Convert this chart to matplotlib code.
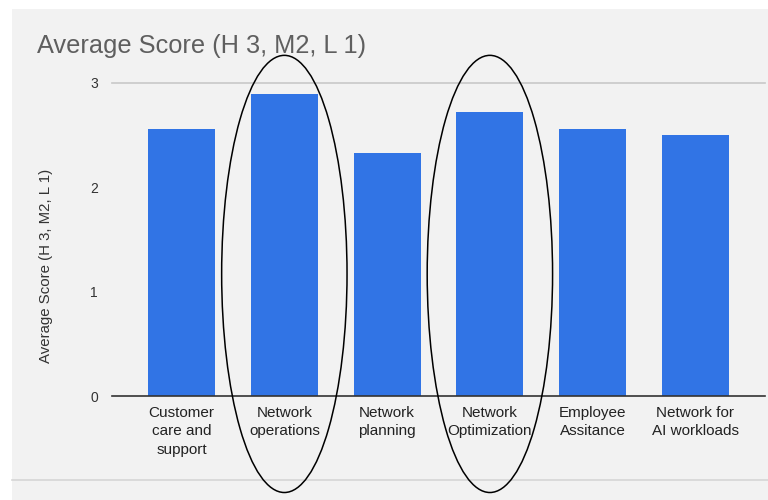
import matplotlib.pyplot as plt
from matplotlib.patches import Ellipse, Rectangle
from matplotlib.lines import Line2D

# data
categories = ['Customer\ncare and\nsupport', 'Network\noperations', 'Network\nplanning',
              'Network\nOptimization', 'Employee\nAssitance', 'Network for\nAI workloads']
scores = [2.56, 2.89, 2.33, 2.72, 2.56, 2.50]
yticks = [0, 1, 2, 3]
circled = [1, 3]  # categories circled by hand

plt.rcParams['font.family'] = ['Liberation Sans', 'DejaVu Sans']

fig = plt.figure(figsize=(7.68, 5.0), dpi=100, facecolor='white')

# gray screenshot panel and bottom divider
fig.patches.append(Rectangle((12 / 768, 0), 1, 1 - 9 / 500, transform=fig.transFigure,
                             facecolor='#f2f2f2', edgecolor='none', zorder=-5))
fig.lines.append(Line2D([12 / 768, 1], [20 / 500, 20 / 500], transform=fig.transFigure,
                        color='#d6d6d6', lw=1.2, zorder=-4))

ax = fig.add_axes([112 / 768, 104 / 500, 653 / 768, 313 / 500])
ax.set_facecolor('none')
ax.set_zorder(2)

x = range(len(categories))
ax.bar(x, scores, width=0.65, color='#3174e5', zorder=2)

ax.set_xlim(-0.677, 5.677)
ax.set_ylim(0, 3)
ax.set_yticks(yticks)
ax.set_yticklabels([str(t) for t in yticks], fontsize=10, color='#333333')
ax.set_xticks(list(x))
ax.set_xticklabels(categories, fontsize=11, color='#222222', linespacing=1.4)
ax.tick_params(axis='both', length=0)
ax.tick_params(axis='y', pad=10)
ax.tick_params(axis='x', pad=7)

# only the top line is visible in the reference
ax.axhline(yticks[-1], color='#c8c8c8', lw=1.2, zorder=0, clip_on=False)
for s in ['top', 'right', 'left']:
    ax.spines[s].set_visible(False)
ax.spines['bottom'].set_color('#333333')
ax.spines['bottom'].set_linewidth(1.2)
ax.spines['bottom'].set_zorder(3)

fig.text(46 / 768, 1 - 266 / 500, 'Average Score (H 3, M2, L 1)', fontsize=10.8,
         color='#333333', rotation=90, va='center', ha='center')

fig.text(37 / 768, 1 - 46 / 500, 'Average Score (H 3, M2, L 1)', fontsize=18.3,
         color='#5f5f5f', va='center', ha='left')

# hand-drawn ellipses around two categories
for i in circled:
    ax.add_patch(Ellipse((i, 1.17), 1.22, 4.19, fill=False, edgecolor='black',
                         lw=1.1, clip_on=False, zorder=4))

fig.savefig('out.png', dpi=100, facecolor=fig.get_facecolor())
